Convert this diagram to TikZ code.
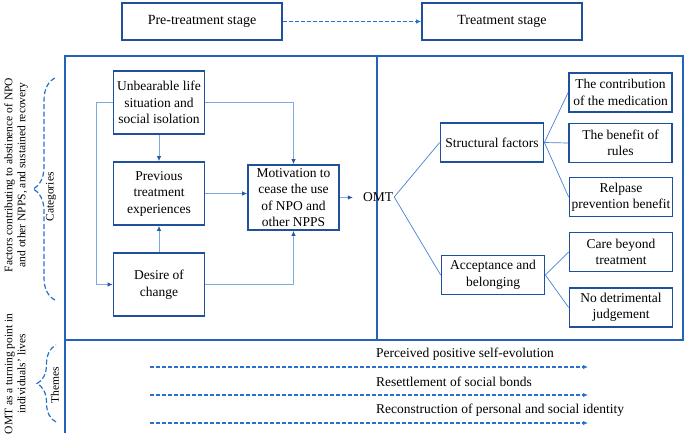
\documentclass[tikz,border=0pt]{standalone}
\definecolor{boxBlue}{RGB}{30,80,155}
\definecolor{frameBlue}{RGB}{35,100,185}
\definecolor{lineBlue}{RGB}{125,170,225}
\definecolor{treeBlue}{RGB}{70,130,215}
\definecolor{dashBlue}{RGB}{40,112,205}
\usepackage{tikz}
\usepackage{fontspec}
\setmainfont{Liberation Serif}
\usetikzlibrary{arrows.meta,positioning,decorations.pathreplacing}
\newcommand\boxfont{\fontsize{13.5}{16.5}\selectfont}
\newcommand\sidefont{\fontsize{11.5}{13}\selectfont}

\begin{document}
\begin{tikzpicture}[
    x=1pt, y=-1pt,
    stagebox/.style={draw=boxBlue, line width=1.7pt, minimum width=160, minimum height=37,
      inner sep=0pt, font=\fontsize{14}{16}\selectfont},
    catbox/.style={draw=boxBlue, line width=1.7pt, minimum width=91, minimum height=63,
      inner sep=1pt, align=center, font=\boxfont},
    subbox/.style={draw=boxBlue, line width=1.7pt, minimum width=103, minimum height=39,
      inner sep=0pt, align=center, font=\boxfont},
    conn/.style={lineBlue, line width=0.9pt, -{Latex[length=5pt,width=4.5pt,color=boxBlue!80!treeBlue]}},
    branch/.style={treeBlue, line width=0.7pt},
    dasharrow/.style={dashBlue, line width=1.1pt, dash pattern=on 4pt off 2pt,
      -{Latex[length=5pt,width=4.5pt]}},
    bracedash/.style={dashBlue, line width=1.2pt, dash pattern=on 5pt off 2.5pt,
      decorate, decoration={brace, amplitude=#1}}
  ]
  \useasboundingbox (0,0) rectangle (685,442);

  % stages
  \node[stagebox] (pre) at (202,21.5) {Pre-treatment stage};
  \node[stagebox] (treat) at (502,21.5) {Treatment stage};
  \draw[dasharrow] (pre) -- (treat);

  % frame
  \draw[frameBlue, line width=1.3pt] (65,56) rectangle (683,340);
  \draw[frameBlue, line width=1.1pt] (377,56) -- (377,340);
  \draw[frameBlue, line width=1.3pt] (65,340) -- (65,433);

  % side labels
  \node[rotate=90, align=center, font=\sidefont] (factors) at (16,175)
    {Factors contributing to abstinence of NPO\\and other NPPS, and sustained recovery};
  \node[rotate=90, font=\sidefont] (categories) at (51,197) {Categories};
  \draw[bracedash=22pt] (55,300) -- (55,78);
  \node[rotate=90, align=center, font=\sidefont] (turning) at (15,374)
    {OMT as a turning point in\\individuals' lives};
  \node[rotate=90, font=\sidefont] (themes) at (55,385) {Themes};
  \draw[bracedash=19pt] (56,422) -- (56,345);

  % pre-treatment categories
  \node[catbox] (unb) at (159,102.5) {Unbearable life\\situation and\\social isolation};
  \node[catbox] (prev) at (159,193.5) {Previous\\treatment\\experiences};
  \node[catbox] (des) at (159,284.5) {Desire of\\change};
  \node[catbox, minimum height=65] (mot) at (293.5,197.5)
    {Motivation to\\cease the use\\of NPO and\\other NPPS};
  \node[font=\boxfont, inner sep=1pt] (omt) at (378,197) {OMT};

  \draw[conn] (unb) -- (prev);
  \draw[conn] (des) -- (prev);
  \draw[conn] (prev.east) -- (prev.east -| mot.west);
  \draw[conn] (unb.east) -| (mot.north);
  \draw[conn] (des.east) -| (mot.south);
  \draw[conn] (unb.west) -- ++(-16,0) |- (des.west);
  \draw[conn] (mot.east) -- ++(13,0);

  % treatment categories
  \node[subbox] (struct) at (492,142.5) {Structural factors};
  \node[subbox] (accept) at (493,275) {Acceptance and\\belonging};
  \node[subbox] (contrib) at (620.5,92.5) {The contribution\\of the medication};
  \node[subbox] (rules) at (620.5,143) {The benefit of\\rules};
  \node[subbox] (relapse) at (621,197) {Relpase\\prevention benefit};
  \node[subbox] (care) at (621,252) {Care beyond\\treatment};
  \node[subbox] (nojudge) at (621,307.5) {No detrimental\\judgement};

  \draw[branch] (omt.east) -- (struct.west);
  \draw[branch] (omt.east) -- (accept.west);
  \foreach \sub in {contrib, rules, relapse}
    \draw[branch] (struct.east) -- (\sub.west);
  \foreach \sub in {care, nojudge}
    \draw[branch] (accept.east) -- (\sub.west);

  % themes
  \foreach \i/\yy/\txt in {1/367/Perceived positive self-evolution,
                           2/395/Resettlement of social bonds,
                           3/423/Reconstruction of personal and social identity} {
    \coordinate (th\i s) at (150,\yy);
    \coordinate (th\i e) at (588,\yy);
    \draw[dasharrow] (th\i s) -- (th\i e);
    \node[anchor=west, font=\boxfont, inner sep=0pt] (theme\i) at (376,\yy-13) {\txt};
  }
\end{tikzpicture}
\end{document}
